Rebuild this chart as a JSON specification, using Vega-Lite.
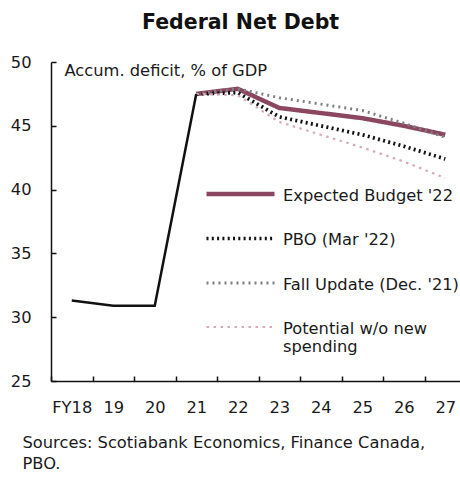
{
  "$schema": "https://vega.github.io/schema/vega-lite/v6.json",
  "width": 409,
  "height": 319,
  "autosize": {"type": "none"},
  "padding": {"left": 51, "top": 62, "right": 0, "bottom": 99},
  "background": "white",
  "title": {
    "text": "Federal Net Debt",
    "anchor": "start",
    "frame": "group",
    "dx": 91,
    "offset": 5,
    "baseline": "alphabetic",
    "fontSize": 20.5,
    "fontWeight": "bold",
    "font": "DejaVu Sans",
    "color": "#111111"
  },
  "config": {
    "font": "DejaVu Sans",
    "view": {"stroke": null},
    "legend": {
      "orient": "none",
      "legendX": 153,
      "legendY": 113,
      "title": null,
      "symbolType": "M-1,0.65H5.8",
      "symbolSize": 400,
      "labelOffset": 54,
      "labelFont": "DejaVu Sans",
      "labelFontSize": 16.3,
      "labelColor": "#1a1a1a",
      "labelBaseline": "top",
      "labelLimit": 300,
      "rowPadding": 16
    }
  },
  "datasets": {
    "hist": [
      {"fy": "FY18", "value": 31.3},
      {"fy": "19", "value": 30.9},
      {"fy": "20", "value": 30.9},
      {"fy": "21", "value": 47.5}
    ],
    "proj": [
      {"series": "Expected Budget '22", "fy": "21", "value": 47.5},
      {"series": "Expected Budget '22", "fy": "22", "value": 47.9},
      {"series": "Expected Budget '22", "fy": "23", "value": 46.4},
      {"series": "Expected Budget '22", "fy": "24", "value": 46.0},
      {"series": "Expected Budget '22", "fy": "25", "value": 45.6},
      {"series": "Expected Budget '22", "fy": "26", "value": 45.0},
      {"series": "Expected Budget '22", "fy": "27", "value": 44.3},
      {"series": "PBO (Mar '22)", "fy": "21", "value": 47.5},
      {"series": "PBO (Mar '22)", "fy": "22", "value": 47.6},
      {"series": "PBO (Mar '22)", "fy": "23", "value": 45.7},
      {"series": "PBO (Mar '22)", "fy": "24", "value": 45.0},
      {"series": "PBO (Mar '22)", "fy": "25", "value": 44.3},
      {"series": "PBO (Mar '22)", "fy": "26", "value": 43.4},
      {"series": "PBO (Mar '22)", "fy": "27", "value": 42.4},
      {"series": "Fall Update (Dec. '21)", "fy": "21", "value": 47.5},
      {"series": "Fall Update (Dec. '21)", "fy": "22", "value": 47.9},
      {"series": "Fall Update (Dec. '21)", "fy": "23", "value": 47.2},
      {"series": "Fall Update (Dec. '21)", "fy": "24", "value": 46.7},
      {"series": "Fall Update (Dec. '21)", "fy": "25", "value": 46.2},
      {"series": "Fall Update (Dec. '21)", "fy": "26", "value": 45.2},
      {"series": "Fall Update (Dec. '21)", "fy": "27", "value": 44.1},
      {"series": "Potential w/o new spending", "fy": "21", "value": 47.5},
      {"series": "Potential w/o new spending", "fy": "22", "value": 47.4},
      {"series": "Potential w/o new spending", "fy": "23", "value": 45.3},
      {"series": "Potential w/o new spending", "fy": "24", "value": 44.3},
      {"series": "Potential w/o new spending", "fy": "25", "value": 43.3},
      {"series": "Potential w/o new spending", "fy": "26", "value": 42.2},
      {"series": "Potential w/o new spending", "fy": "27", "value": 40.9}
    ]
  },
  "encoding": {
    "x": {
      "field": "fy",
      "type": "ordinal",
      "scale": {
        "domain": ["FY18", "19", "20", "21", "22", "23", "24", "25", "26", "27"],
        "range": [0, 415],
        "paddingInner": 0,
        "paddingOuter": 0
      },
      "axis": {
        "title": ["Sources: Scotiabank Economics, Finance Canada,", "PBO."],
        "labelAngle": 0,
        "tickBand": "extent",
        "tickSize": -5,
        "tickWidth": 1.5,
        "tickColor": "#111111",
        "domainColor": "#111111",
        "domainWidth": 1.5,
        "labelFont": "DejaVu Sans",
        "labelFontSize": 16.3,
        "labelColor": "#1a1a1a",
        "labelBaseline": "top",
        "labelPadding": 23,
        "titleFont": "DejaVu Sans",
        "titleAnchor": "start",
        "titleAlign": "left",
        "titleX": -29,
        "titleY": 66,
        "titleBaseline": "alphabetic",
        "titleFontSize": 16.3,
        "titleFontWeight": "normal",
        "titleLineHeight": 21.5,
        "titleColor": "#1a1a1a"
      }
    },
    "y": {
      "field": "value",
      "type": "quantitative",
      "scale": {"domain": [25, 50], "nice": false, "zero": false},
      "axis": {
        "title": "Accum. deficit, % of GDP",
        "titleFont": "DejaVu Sans",
        "titleAngle": 0,
        "titleAlign": "left",
        "titleAnchor": "start",
        "titleX": 13,
        "titleY": 13,
        "titleBaseline": "alphabetic",
        "titleFontSize": 16.3,
        "titleFontWeight": "normal",
        "titleColor": "#1a1a1a",
        "values": [25, 30, 35, 40, 45, 50],
        "grid": false,
        "tickSize": -5,
        "tickWidth": 1.5,
        "tickColor": "#111111",
        "domainColor": "#111111",
        "domainWidth": 1.5,
        "labelFont": "DejaVu Sans",
        "labelFontSize": 16.3,
        "labelColor": "#1a1a1a",
        "labelPadding": 25
      }
    }
  },
  "layer": [
    {
      "data": {"name": "proj"},
      "mark": {"type": "line", "strokeCap": "butt"},
      "encoding": {
        "color": {
          "field": "series",
          "type": "nominal",
          "scale": {
            "domain": ["Expected Budget '22", "PBO (Mar '22)", "Fall Update (Dec. '21)", "Potential w/o new spending"],
            "range": ["#8c4760", "#111111", "#808080", "#d8a9b9"]
          },
          "legend": {
            "labelExpr": "datum.label == 'Potential w/o new spending' ? ['Potential w/o new', 'spending'] : datum.label"
          }
        },
        "strokeDash": {
          "field": "series",
          "type": "nominal",
          "scale": {
            "domain": ["Expected Budget '22", "PBO (Mar '22)", "Fall Update (Dec. '21)", "Potential w/o new spending"],
            "range": [[1, 0], [2, 3.3], [2, 4], [2.5, 4.5]]
          },
          "legend": {
            "labelExpr": "datum.label == 'Potential w/o new spending' ? ['Potential w/o new', 'spending'] : datum.label"
          }
        },
        "strokeWidth": {
          "field": "series",
          "type": "nominal",
          "scale": {
            "domain": ["Expected Budget '22", "PBO (Mar '22)", "Fall Update (Dec. '21)", "Potential w/o new spending"],
            "range": [4.5, 2.2, 2, 2.6]
          },
          "legend": {
            "labelExpr": "datum.label == 'Potential w/o new spending' ? ['Potential w/o new', 'spending'] : datum.label"
          }
        }
      }
    },
    {
      "data": {"name": "hist"},
      "mark": {"type": "line", "color": "#111111", "strokeWidth": 2.5}
    }
  ]
}
